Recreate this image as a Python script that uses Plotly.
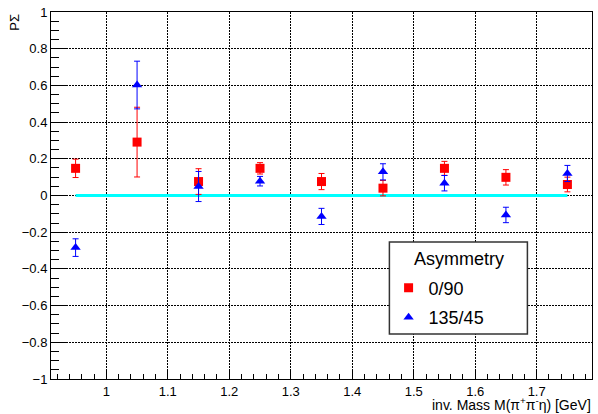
import plotly.graph_objects as go

# ---- data ----
mass = [0.95, 1.05, 1.15, 1.25, 1.35, 1.45, 1.55, 1.65, 1.75]
asym_0_90 = [0.148, 0.291, 0.076, 0.148, 0.076, 0.040, 0.148, 0.099, 0.060]
err_0_90 = [0.050, 0.190, 0.070, 0.031, 0.044, 0.042, 0.038, 0.042, 0.040]
asym_135_45 = [-0.284, 0.602, 0.049, 0.078, -0.114, 0.129, 0.067, -0.106, 0.120]
err_135_45 = [0.048, 0.130, 0.082, 0.026, 0.044, 0.044, 0.042, 0.042, 0.044]
zero_line_x = [0.95, 1.75]
zero_line_y = [0.0, 0.0]

y_ticks = [-1, -0.8, -0.6, -0.4, -0.2, 0, 0.2, 0.4, 0.6, 0.8, 1]
y_tick_text = ["\u22121", "\u22120.8", "\u22120.6", "\u22120.4", "\u22120.2", "0",
               "0.2", "0.4", "0.6", "0.8", "1"]
x_ticks = [1.0, 1.1, 1.2, 1.3, 1.4, 1.5, 1.6, 1.7]
x_tick_text = ["1", "1.1", "1.2", "1.3", "1.4", "1.5", "1.6", "1.7"]

FONT = "Liberation Sans, Arial, Helvetica, sans-serif"

fig = go.Figure()

fig.add_trace(go.Scatter(
    x=zero_line_x, y=zero_line_y, mode="lines",
    line=dict(color="#00ffff", width=3), showlegend=False, hoverinfo="skip"))

fig.add_trace(go.Scatter(
    x=mass, y=asym_0_90, mode="markers", name="0/90", legendgroup="a",
    marker=dict(symbol="square", size=9, color="#ff0000"),
    error_y=dict(type="data", array=err_0_90, color="#ff0000", thickness=1, width=3)))

fig.add_trace(go.Scatter(
    x=mass, y=asym_135_45, mode="markers", name="135/45", legendgroup="b",
    marker=dict(symbol="triangle-up", size=9, color="#0000ff"),
    error_y=dict(type="data", array=err_135_45, color="#0000ff", thickness=1, width=3)))

axis_common = dict(
    showline=True, linecolor="black", linewidth=1, mirror=True,
    showgrid=True, gridcolor="black", gridwidth=1, griddash="1.5px,1.5px",
    zeroline=False, ticks="inside", tickcolor="black", tickwidth=1,
    tickfont=dict(family=FONT, size=13, color="black"),
)

fig.update_xaxes(
    **axis_common, range=[0.91, 1.79], tickvals=x_ticks, ticktext=x_tick_text,
    ticklen=10,
    minor=dict(ticks="inside", ticklen=5, dtick=0.02, tick0=0.9, tickcolor="black",
               showgrid=False))
fig.update_yaxes(
    **axis_common, range=[-1, 1], tickvals=y_ticks, ticktext=y_tick_text,
    ticklen=15,
    minor=dict(ticks="inside", ticklen=8, dtick=0.05, tick0=0, tickcolor="black",
               showgrid=False))

fig.update_layout(
    width=598, height=414,
    margin=dict(l=51, r=5, t=10, b=35),
    plot_bgcolor="white", paper_bgcolor="white",
    font=dict(family=FONT, color="black"),
    showlegend=True,
    legend=dict(
        font=dict(family=FONT, size=18),
        x=0.624, y=0.298, xanchor="left", yanchor="top",
        bgcolor="rgba(0,0,0,0)", borderwidth=0,
        tracegroupgap=3, itemwidth=30,
    ),
    shapes=[
        dict(type="rect", xref="paper", yref="paper",
             x0=0.6255, x1=0.8806, y0=0.1228, y1=0.3732,
             line=dict(color="#333", width=1.5), fillcolor="white", layer="above"),
    ],
    annotations=[
        dict(text="Asymmetry", xref="paper", yref="paper", x=0.7533, y=0.328,
             xanchor="center", yanchor="middle", showarrow=False,
             font=dict(family=FONT, size=18)),
        dict(text="P\u03a3", textangle=-90, xref="paper", yref="paper",
             x=-0.068, y=1.0, xanchor="center", yanchor="top", showarrow=False,
             font=dict(family=FONT, size=13)),
        dict(text="inv. Mass M(\u03c0<sup>+</sup>\u03c0<sup>-</sup>\u03b7) [GeV]",
             xref="paper", yref="paper", x=1.0, y=-0.0965, xanchor="right", yanchor="bottom",
             showarrow=False, borderpad=0, font=dict(family=FONT, size=14)),
    ],
)

fig.write_html("out.html", config={"displayModeBar": False},
               post_script="document.body.style.margin='0px';")
